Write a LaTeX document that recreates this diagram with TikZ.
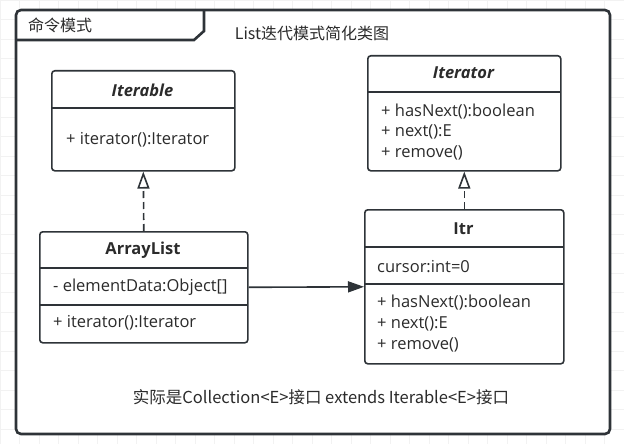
\documentclass[tikz,border=0pt]{standalone}
\usepackage{fontspec}
\setmainfont{Open Sans}
\newfontfamily\cjk{Noto Sans CJK SC}
\usetikzlibrary{arrows.meta}
\definecolor{ln}{HTML}{2E3338}
\definecolor{tx}{HTML}{2B2B2B}
\definecolor{gridc}{HTML}{F2F2F2}
\begin{document}
\begin{tikzpicture}[x=1pt,y=-1pt,
  box/.style={draw=ln, line width=1.6pt, rounded corners=3pt, inner sep=0pt, anchor=north west},
  sepline/.style={draw=ln, line width=1.6pt},
  lbl/.style={font=\fontsize{16.5}{18}\selectfont, text=tx, anchor=west, inner sep=0pt},
  ttl/.style={font=\fontsize{16.5}{18}\selectfont\bfseries, text=tx, inner sep=0pt},
  cn/.style={font=\fontsize{16.5}{18}\selectfont\cjk, text=tx, inner sep=0pt},
  realize/.style={draw=ln, line width=1.6pt, dash pattern=on 7pt off 4pt, -{Triangle[open, length=17pt, width=12pt, line width=1.6pt]}},
  assoc/.style={draw=ln, line width=1.6pt, -{Triangle[length=16pt, width=11pt]}}
]
\useasboundingbox (0,0) rectangle (624,444);
\fill[white] (0,0) rectangle (624,444);
\foreach \gx in {0,19.5,...,624} {\draw[gridc, line width=0.8pt] (\gx,0) -- (\gx,444);}
\foreach \gy in {0,19.5,...,444} {\draw[gridc, line width=0.8pt] (0,\gy) -- (624,\gy);}
% outer frame
\fill[white, rounded corners=5pt] (16,10) rectangle (610,434);
\draw[ln, line width=2.6pt, rounded corners=5pt] (16,10) rectangle (610,434);
\draw[ln, line width=2.6pt] (16,40) -- (194,40) -- (204,31) -- (204,10);
\node[cn, font=\fontsize{16}{18}\selectfont\cjk, anchor=west] (tab) at (28,25) {命令模式};
\node[cn, font=\fontsize{16}{18}\selectfont\cjk] (title) at (312,33) {List迭代模式简化类图};

% Iterable
\node[box, minimum width=183pt, minimum height=100pt] (iterable) at (51,70) {};
\draw[sepline] (51,108) -- (234,108);
\node[ttl, font=\fontsize{16.5}{18}\selectfont\bfseries\itshape] (iterablet) at (142.5,90) {Iterable};
\node[lbl] (iterablem) at (66,140) {+ iterator():Iterator};

% Iterator
\node[box, minimum width=193pt, minimum height=115pt] (iterator) at (367,55) {};
\draw[sepline] (367,92) -- (560,92);
\node[ttl, font=\fontsize{16.5}{18}\selectfont\bfseries\itshape] (iteratort) at (463.5,73) {Iterator};
\node[lbl] (iteratorm1) at (381,112) {+ hasNext():boolean};
\node[lbl] (iteratorm2) at (381,132) {+ next():E};
\node[lbl] (iteratorm3) at (381,153) {+ remove()};

% ArrayList
\node[box, minimum width=208pt, minimum height=111pt] (arraylist) at (39,231) {};
\draw[sepline] (39,268) -- (247,268);
\draw[sepline] (39,305) -- (247,305);
\node[ttl] (arraylistt) at (143,250) {ArrayList};
\node[lbl] (arraylista) at (53,287) {- elementData:Object[]};
\node[lbl] (arraylistm) at (53,323) {+ iterator():Iterator};

% Itr
\node[box, minimum width=199pt, minimum height=154pt] (itr) at (364,209) {};
\draw[sepline] (364,247) -- (563,247);
\draw[sepline] (364,284) -- (563,284);
\node[ttl] (itrt) at (463.5,229) {Itr};
\node[lbl] (itra) at (377,267) {cursor:int=0};
\node[lbl] (itrm1) at (377,303) {+ hasNext():boolean};
\node[lbl] (itrm2) at (377,324) {+ next():E};
\node[lbl] (itrm3) at (377,345) {+ remove()};

% connectors
\draw[realize] (arraylist.north) -- (iterable.south);
\draw[realize] (itr.north) -- (iterator.south);
\draw[assoc] (arraylist.east) -- (itr.west);

\node[cn] (note) at (321,397) {实际是Collection<E>接口 extends Iterable<E>接口};
\end{tikzpicture}
\end{document}
